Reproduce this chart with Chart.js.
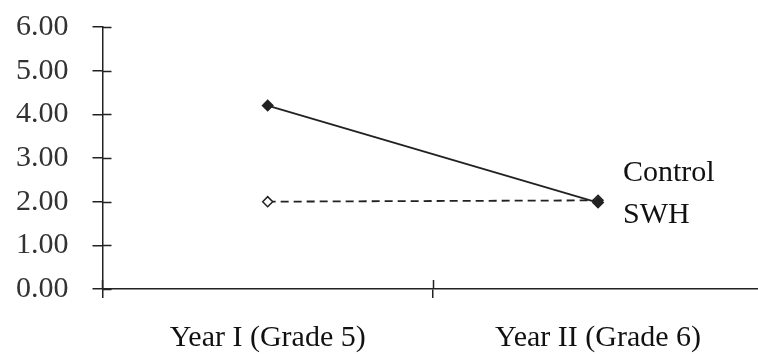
<!DOCTYPE html>
<html>
<head>
<meta charset="utf-8">
<script src="https://cdn.jsdelivr.net/npm/chart.js@4"></script>
<style>
  html, body { margin: 0; padding: 0; background: #fff; overflow: hidden; }
  #wrap { width: 758px; height: 354px; overflow: hidden; position: relative; }
  #myChart { position: absolute; left: 0; top: -12px; }
</style>
</head>
<body>
<div id="wrap"><canvas id="myChart" width="770" height="393"></canvas></div>
<script>
// data
const years = ["Year I (Grade 5)", "Year II (Grade 6)"];
const controlScores = [4.2, 1.98];
const swhScores = [2.0, 2.03];
const seriesNames = ["Control", "SWH"];
const yTicks = [0, 1, 2, 3, 4, 5, 6];

const ink = "#222";
const serif = "'Liberation Serif', 'Times New Roman', serif";

// little ticks on the inside of each axis, plus the series names at the right
const extras = {
  id: "extras",
  afterDraw(chart) {
    const ctx = chart.ctx;
    const area = chart.chartArea;
    const y = chart.scales.y, x = chart.scales.x;
    const step = x.getPixelForValue(1) - x.getPixelForValue(0);
    ctx.save();
    ctx.strokeStyle = ink;
    ctx.lineWidth = 1.5;
    ctx.beginPath();
    yTicks.forEach(v => {
      const py = Math.round(y.getPixelForValue(v)) + 0.5;
      ctx.moveTo(area.left, py);
      ctx.lineTo(area.left + 9, py);
    });
    for (let i = 0; i <= years.length; i++) {
      const px = Math.round(x.getPixelForValue(0) - step / 2 + i * step) + 0.5;
      ctx.moveTo(px, area.bottom);
      ctx.lineTo(px, area.bottom - 9);
    }
    ctx.stroke();

    // series names next to the last points
    const lastX = x.getPixelForValue(years.length - 1);
    const midY = y.getPixelForValue((controlScores[1] + swhScores[1]) / 2);
    ctx.fillStyle = "#111";
    ctx.font = "30px " + serif;
    ctx.textBaseline = "middle";
    ctx.textAlign = "left";
    ctx.fillText(seriesNames[0], lastX + 25, midY - 28);
    ctx.fillText(seriesNames[1], lastX + 25, midY + 14);
    ctx.restore();
  }
};

new Chart(document.getElementById("myChart"), {
  type: "line",
  data: {
    labels: years,
    datasets: [
      {
        label: seriesNames[0],
        data: controlScores,
        borderColor: ink,
        borderWidth: 1.8,
        pointStyle: "rectRot",
        pointRadius: 5,
        pointBackgroundColor: ink,
        pointBorderColor: ink,
        tension: 0
      },
      {
        label: seriesNames[1],
        data: swhScores,
        borderColor: ink,
        borderWidth: 1.8,
        borderDash: [8, 5],
        pointStyle: "rectRot",
        pointRadius: 5,
        pointBackgroundColor: "#fff",
        pointBorderColor: ink,
        pointBorderWidth: 1.5,
        tension: 0
      }
    ]
  },
  options: {
    responsive: false,
    animation: false,
    layout: { padding: { top: -8, right: 0, left: -8, bottom: 3 } },
    plugins: {
      legend: { display: false },
      tooltip: { enabled: false }
    },
    scales: {
      x: {
        offset: true,
        grid: { offset: true, drawOnChartArea: false, drawTicks: true, tickLength: 9, color: ink, lineWidth: 1.5 },
        border: { display: true, color: ink, width: 1.5 },
        ticks: { color: "#111", font: { family: serif, size: 30, lineHeight: 1 }, padding: 25, maxRotation: 0 }
      },
      y: {
        min: 0,
        max: 6,
        afterBuildTicks: axis => { axis.ticks = yTicks.map(v => ({ value: v })); },
        grid: { drawOnChartArea: false, drawTicks: true, tickLength: 10, color: ink, lineWidth: 1.5 },
        border: { display: true, color: ink, width: 1.5 },
        ticks: {
          color: "#333",
          font: { family: serif, size: 30, lineHeight: 1 },
          padding: 24,
          callback: v => Number(v).toFixed(2)
        }
      }
    }
  },
  plugins: [extras]
});
</script>
</body>
</html>
